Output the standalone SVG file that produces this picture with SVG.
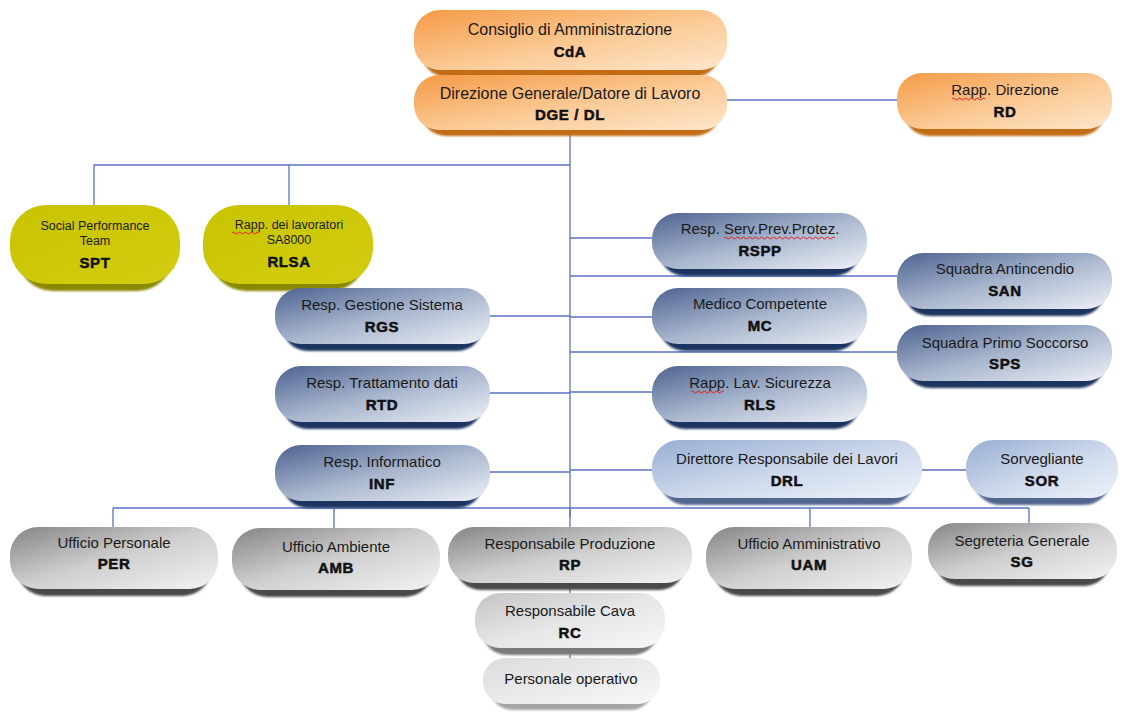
<svg xmlns="http://www.w3.org/2000/svg" width="1126" height="713" viewBox="0 0 1126 713">
  <style>
    .lbl { font-family: "Liberation Sans", Arial, sans-serif; font-size: 15px; fill: #1a1a1a; text-anchor: middle; }
    .big { font-size: 16px; }
    .sm { font-size: 12.5px; }
    .abbr { font-family: "Liberation Sans", Arial, sans-serif; font-size: 15px; font-weight: bold; fill: #111; stroke: #111; stroke-width: 0.5; text-anchor: middle; letter-spacing: 0.6px; }
    .wire { fill: none; stroke: #5a72c4; stroke-width: 1.3; }
    .sh { filter: url(#soft); }
    .spell { fill: none; stroke: #e02020; stroke-width: 1; }
  </style>
  <defs>
    <filter id="soft" x="-10%" y="-20%" width="120%" height="140%">
      <feGaussianBlur stdDeviation="0.8"/>
    </filter>
    <linearGradient id="gOr" x1="0" y1="0" x2="1" y2="1">
      <stop offset="0" stop-color="#f59a45"/>
      <stop offset="0.55" stop-color="#fbcb97"/>
      <stop offset="1" stop-color="#fde6cc"/>
    </linearGradient>
    <linearGradient id="gYe" x1="0" y1="0" x2="1" y2="1">
      <stop offset="0" stop-color="#c9c400"/>
      <stop offset="1" stop-color="#d2cd10"/>
    </linearGradient>
    <linearGradient id="gBl" x1="0" y1="0" x2="1" y2="1">
      <stop offset="0" stop-color="#4d6290"/>
      <stop offset="0.5" stop-color="#a7b5cd"/>
      <stop offset="1" stop-color="#eef1f7"/>
    </linearGradient>
    <linearGradient id="gLb" x1="0" y1="0" x2="1" y2="1">
      <stop offset="0" stop-color="#98aed3"/>
      <stop offset="0.55" stop-color="#cfdaec"/>
      <stop offset="1" stop-color="#eef3fa"/>
    </linearGradient>
    <linearGradient id="gGr" x1="0" y1="0" x2="1" y2="1">
      <stop offset="0" stop-color="#858585"/>
      <stop offset="0.5" stop-color="#cfcfcf"/>
      <stop offset="1" stop-color="#f3f3f3"/>
    </linearGradient>
    <linearGradient id="gLg" x1="0" y1="0" x2="1" y2="1">
      <stop offset="0" stop-color="#c4c4c4"/>
      <stop offset="0.5" stop-color="#e6e6e6"/>
      <stop offset="1" stop-color="#f7f7f7"/>
    </linearGradient>
    <linearGradient id="gVl" x1="0" y1="0" x2="1" y2="1">
      <stop offset="0" stop-color="#dcdcdc"/>
      <stop offset="1" stop-color="#f8f8f8"/>
    </linearGradient>
  </defs>

  <rect width="1126" height="713" fill="#ffffff"/>

  <!-- connectors -->
  <g id="connectors">
    <path class="wire" d="M570 70V75"/>
    <path class="wire" d="M727 100H897"/>
    <path class="wire" d="M570 130V517"/>
    <path class="wire" d="M570 165H94V205M289 165V205"/>
    <path class="wire" d="M570 238H652M570 276H897M570 317H652M570 352H897M570 392H652M570 470H652M922 470H966"/>
    <path class="wire" d="M490 316H570M490 393H570M490 472H570"/>
    <path class="wire" d="M113 508H1029M113 508V527M334 508V528M570 508V527M810 508V527M1029 508V523"/>
    <path class="wire" d="M570 587V593M570 650V658"/>
  </g>

  <!-- top management -->
  <g id="n-cda">
    <rect class="sh" x="421" y="17" width="299" height="60" rx="26" fill="#c26c18"/>
    <rect x="414" y="10" width="313" height="60" rx="26" fill="url(#gOr)"/>
    <text class="lbl big" x="570" y="35">Consiglio di Amministrazione</text>
    <text class="abbr" x="570" y="57">CdA</text>
  </g>
  <g id="n-dge">
    <rect class="sh" x="421" y="81" width="299" height="55" rx="25" fill="#c26c18"/>
    <rect x="414" y="75" width="313" height="55" rx="25" fill="url(#gOr)"/>
    <text class="lbl big" x="570" y="99">Direzione Generale/Datore di Lavoro</text>
    <text class="abbr" x="570" y="120">DGE / DL</text>
  </g>
  <g id="n-rd">
    <rect class="sh" x="904" y="80" width="201" height="56" rx="25" fill="#c26c18"/>
    <rect x="897" y="73" width="215" height="56" rx="25" fill="url(#gOr)"/>
    <text class="lbl" x="1005" y="95">Rapp. Direzione</text>
    <path class="spell" d="M952 99q1.5 -2 3 0t3 0t3 0t3 0t3 0t3 0t3 0t3 0t3 0t3 0t3 0"/>
    <text class="abbr" x="1005" y="117">RD</text>
  </g>

  <!-- SA8000 -->
  <g id="n-spt">
    <rect class="sh" x="17" y="212" width="156" height="79" rx="36" fill="#8a8700"/>
    <rect x="10" y="205" width="170" height="79" rx="36" fill="url(#gYe)"/>
    <text class="lbl sm" x="95" y="230">Social Performance</text>
    <text class="lbl sm" x="95" y="245">Team</text>
    <text class="abbr" x="95" y="268">SPT</text>
  </g>
  <g id="n-rlsa">
    <rect class="sh" x="210" y="212" width="156" height="79" rx="36" fill="#8a8700"/>
    <rect x="203" y="205" width="170" height="79" rx="36" fill="url(#gYe)"/>
    <text class="lbl sm" x="289" y="229">Rapp. dei lavoratori</text>
    <path class="spell" d="M232 233q1.5 -2 3 0t3 0t3 0t3 0t3 0t3 0t3 0t3 0t3 0"/>
    <text class="lbl sm" x="289" y="244">SA8000</text>
    <text class="abbr" x="289" y="267">RLSA</text>
  </g>

  <!-- staff, right of the spine -->
  <g id="n-rspp">
    <rect class="sh" x="659" y="220" width="201" height="56" rx="26" fill="#1d3460"/>
    <rect x="652" y="213" width="215" height="56" rx="26" fill="url(#gBl)"/>
    <text class="lbl" x="760" y="234">Resp. Serv.Prev.Protez.</text>
    <path class="spell" d="M724 238q1.5 -2 3 0t3 0t3 0t3 0t3 0t3 0t3 0t3 0t3 0t3 0t3 0t3 0t3 0t3 0t3 0t3 0t3 0t3 0t3 0t3 0t3 0t3 0t3 0t3 0t3 0t3 0t3 0t3 0t3 0t3 0t3 0t3 0t3 0t3 0t3 0t3 0t3 0"/>
    <text class="abbr" x="760" y="256">RSPP</text>
  </g>
  <g id="n-san">
    <rect class="sh" x="904" y="260" width="201" height="56" rx="26" fill="#1d3460"/>
    <rect x="897" y="253" width="215" height="56" rx="26" fill="url(#gBl)"/>
    <text class="lbl" x="1005" y="274">Squadra Antincendio</text>
    <text class="abbr" x="1005" y="296">SAN</text>
  </g>
  <g id="n-mc">
    <rect class="sh" x="659" y="295" width="201" height="56" rx="26" fill="#1d3460"/>
    <rect x="652" y="288" width="215" height="56" rx="26" fill="url(#gBl)"/>
    <text class="lbl" x="760" y="309">Medico Competente</text>
    <text class="abbr" x="760" y="331">MC</text>
  </g>
  <g id="n-sps">
    <rect class="sh" x="904" y="332" width="201" height="56" rx="26" fill="#1d3460"/>
    <rect x="897" y="325" width="215" height="56" rx="26" fill="url(#gBl)"/>
    <text class="lbl" x="1005" y="348">Squadra Primo Soccorso</text>
    <text class="abbr" x="1005" y="369">SPS</text>
  </g>
  <g id="n-rls">
    <rect class="sh" x="659" y="373" width="201" height="56" rx="26" fill="#1d3460"/>
    <rect x="652" y="366" width="215" height="56" rx="26" fill="url(#gBl)"/>
    <text class="lbl" x="760" y="388">Rapp. Lav. Sicurezza</text>
    <path class="spell" d="M691 392q1.5 -2 3 0t3 0t3 0t3 0t3 0t3 0t3 0t3 0t3 0t3 0t3 0"/>
    <text class="abbr" x="760" y="410">RLS</text>
  </g>

  <!-- staff, left of the spine -->
  <g id="n-rgs">
    <rect class="sh" x="282" y="295" width="201" height="56" rx="26" fill="#1d3460"/>
    <rect x="275" y="288" width="215" height="56" rx="26" fill="url(#gBl)"/>
    <text class="lbl" x="382" y="310">Resp. Gestione Sistema</text>
    <text class="abbr" x="382" y="332">RGS</text>
  </g>
  <g id="n-rtd">
    <rect class="sh" x="282" y="373" width="201" height="56" rx="26" fill="#1d3460"/>
    <rect x="275" y="366" width="215" height="56" rx="26" fill="url(#gBl)"/>
    <text class="lbl" x="382" y="388">Resp. Trattamento dati</text>
    <text class="abbr" x="382" y="410">RTD</text>
  </g>
  <g id="n-inf">
    <rect class="sh" x="282" y="452" width="201" height="56" rx="26" fill="#1d3460"/>
    <rect x="275" y="445" width="215" height="56" rx="26" fill="url(#gBl)"/>
    <text class="lbl" x="382" y="467">Resp. Informatico</text>
    <text class="abbr" x="382" y="489">INF</text>
  </g>

  <!-- site management -->
  <g id="n-drl">
    <rect class="sh" x="659" y="447" width="256" height="58" rx="27" fill="#52668d"/>
    <rect x="652" y="440" width="270" height="58" rx="27" fill="url(#gLb)"/>
    <text class="lbl" x="787" y="464">Direttore Responsabile dei Lavori</text>
    <text class="abbr" x="787" y="486">DRL</text>
  </g>
  <g id="n-sor">
    <rect class="sh" x="973" y="447" width="138" height="58" rx="27" fill="#52668d"/>
    <rect x="966" y="440" width="152" height="58" rx="27" fill="url(#gLb)"/>
    <text class="lbl" x="1042" y="464">Sorvegliante</text>
    <text class="abbr" x="1042" y="486">SOR</text>
  </g>

  <!-- offices -->
  <g id="n-per">
    <rect class="sh" x="17" y="534" width="194" height="62" rx="28" fill="#4a4a4a"/>
    <rect x="10" y="527" width="208" height="62" rx="28" fill="url(#gGr)"/>
    <text class="lbl" x="114" y="548">Ufficio Personale</text>
    <text class="abbr" x="114" y="569">PER</text>
  </g>
  <g id="n-amb">
    <rect class="sh" x="239" y="535" width="194" height="62" rx="28" fill="#4a4a4a"/>
    <rect x="232" y="528" width="208" height="62" rx="28" fill="url(#gGr)"/>
    <text class="lbl" x="336" y="552">Ufficio Ambiente</text>
    <text class="abbr" x="336" y="573">AMB</text>
  </g>
  <g id="n-rp">
    <rect class="sh" x="455" y="534" width="230" height="56" rx="26" fill="#4a4a4a"/>
    <rect x="448" y="527" width="244" height="56" rx="26" fill="url(#gGr)"/>
    <text class="lbl" x="570" y="549">Responsabile Produzione</text>
    <text class="abbr" x="570" y="570">RP</text>
  </g>
  <g id="n-uam">
    <rect class="sh" x="713" y="534" width="192" height="62" rx="28" fill="#4a4a4a"/>
    <rect x="706" y="527" width="206" height="62" rx="28" fill="url(#gGr)"/>
    <text class="lbl" x="809" y="549">Ufficio Amministrativo</text>
    <text class="abbr" x="809" y="570">UAM</text>
  </g>
  <g id="n-sg">
    <rect class="sh" x="935" y="530" width="175" height="56" rx="26" fill="#4a4a4a"/>
    <rect x="928" y="523" width="189" height="56" rx="26" fill="url(#gGr)"/>
    <text class="lbl" x="1022" y="546">Segreteria Generale</text>
    <text class="abbr" x="1022" y="567">SG</text>
  </g>

  <!-- quarry -->
  <g id="n-rc">
    <rect class="sh" x="482" y="600" width="176" height="55" rx="25" fill="#7a7a7a"/>
    <rect x="475" y="593" width="190" height="55" rx="25" fill="url(#gLg)"/>
    <text class="lbl" x="570" y="616">Responsabile Cava</text>
    <text class="abbr" x="570" y="638">RC</text>
  </g>
  <g id="n-po">
    <rect class="sh" x="490" y="664" width="163" height="46" rx="22" fill="#a5a5a5"/>
    <rect x="483" y="658" width="177" height="46" rx="22" fill="url(#gVl)"/>
    <text class="lbl" x="571" y="684">Personale operativo</text>
  </g>
</svg>
